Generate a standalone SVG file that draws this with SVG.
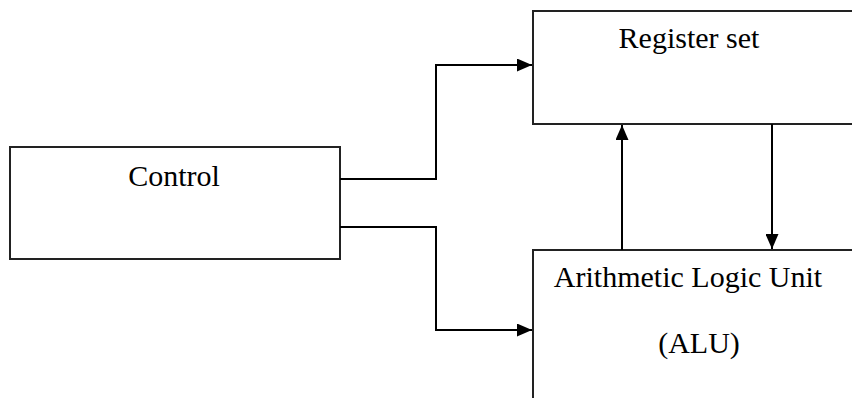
<svg xmlns="http://www.w3.org/2000/svg" width="852" height="398" viewBox="0 0 852 398">
<style>
.box{fill:#fff;stroke:#222;stroke-width:2}
.t{font-family:"Liberation Serif","Times New Roman",serif;font-size:30px;fill:#000;text-anchor:middle}
.c{fill:none;stroke:#000;stroke-width:2}
</style>
<defs>
<marker id="ah" markerWidth="15" markerHeight="13" refX="15" refY="6.5" orient="auto" markerUnits="userSpaceOnUse">
<path d="M0,0 L15,6.5 L0,13 Z" fill="#000"/>
</marker>
</defs>
<rect width="852" height="398" fill="#fff"/>
<g id="control">
<rect class="box" x="10" y="147" width="330" height="112"/>
<text class="t" x="174" y="186">Control</text>
</g>
<g id="register">
<rect class="box" x="533" y="11" width="330" height="113"/>
<text class="t" x="689" y="48">Register set</text>
</g>
<g id="alu">
<rect class="box" x="533" y="250" width="330" height="160"/>
<text class="t" x="688" y="287">Arithmetic Logic Unit</text>
<text class="t" x="699" y="353">(ALU)</text>
</g>
<g id="connectors">
<path class="c" d="M340,179 H436 V65 H532" marker-end="url(#ah)"/>
<path class="c" d="M340,227 H436 V330 H532" marker-end="url(#ah)"/>
<path class="c" d="M622,250 V125" marker-end="url(#ah)"/>
<path class="c" d="M772,124 V249" marker-end="url(#ah)"/>
</g>
</svg>
